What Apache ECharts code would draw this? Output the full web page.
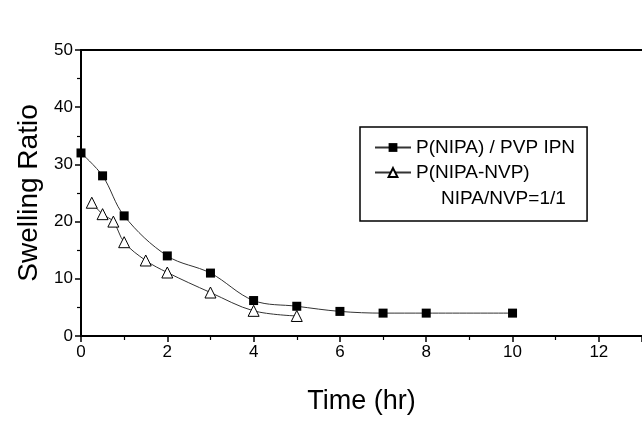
<!DOCTYPE html>
<html>
<head>
<meta charset="utf-8">
<script src="https://cdn.jsdelivr.net/npm/echarts@6/dist/echarts.min.js"></script>
<style>html,body{margin:0;padding:0;background:#fff}#c{width:642px;height:434px}</style>
</head>
<body>
<div id="c"></div>
<script>
const ipnTime = [0, 0.5, 1, 2, 3, 4, 5, 6, 7, 8, 10];
const ipnRatio = [32, 28, 21, 14, 11, 6.2, 5.2, 4.3, 4, 4, 4];
const copTime = [0.25, 0.5, 0.75, 1, 1.5, 2, 3, 4, 5];
const copRatio = [23.3, 21.3, 20, 16.4, 13.2, 11.1, 7.6, 4.4, 3.5];
const seriesNames = ['P(NIPA) / PVP IPN', 'P(NIPA-NVP)'];
const legendExtra = 'NIPA/NVP=1/1';
const xTitle = 'Time (hr)';
const yTitle = 'Swelling Ratio';

const font = 'Liberation Sans, Arial, sans-serif';
const chart = echarts.init(document.getElementById('c'));
chart.setOption({
  animation: false,
  grid: {left: 81, right: 0, top: 50, bottom: 98},
  legend: {
    orient: 'vertical', left: 360, top: 127,
    padding: [11, 12, 39, 14], itemGap: 6,
    itemWidth: 36, itemHeight: 11,
    borderColor: '#000', borderWidth: 1.5,
    textStyle: {fontFamily: font, fontSize: 19, color: '#000'},
    data: seriesNames
  },
  graphic: [{
    type: 'text', left: 441, top: 189,
    style: {text: legendExtra, fontFamily: font, fontSize: 19, fill: '#000'}
  }],
  xAxis: [{
    type: 'value', min: 0, max: 13, interval: 2,
    name: xTitle, nameLocation: 'middle', nameGap: 52,
    nameTextStyle: {fontFamily: font, fontSize: 27, color: '#000'},
    axisLine: {lineStyle: {color: '#000', width: 2}},
    axisTick: {length: 6, lineStyle: {color: '#000', width: 1.5}},
    minorTick: {show: true, splitNumber: 2, length: 4, lineStyle: {color: '#000', width: 1.2}},
    axisLabel: {fontFamily: font, fontSize: 17, color: '#000', margin: 8, showMaxLabel: false},
    splitLine: {show: false}
  }, {
    type: 'value', min: 0, max: 13, position: 'top',
    axisLine: {show: true, lineStyle: {color: '#000', width: 2}},
    axisTick: {show: false}, axisLabel: {show: false}, splitLine: {show: false}
  }],
  yAxis: {
    type: 'value', min: 0, max: 50, interval: 10,
    name: yTitle, nameLocation: 'middle', nameGap: 38,
    nameTextStyle: {fontFamily: font, fontSize: 28, color: '#000'},
    axisLine: {show: true, lineStyle: {color: '#000', width: 2}},
    axisTick: {show: true, length: 6, lineStyle: {color: '#000', width: 1.5}},
    minorTick: {show: true, splitNumber: 2, length: 4, lineStyle: {color: '#000', width: 1.2}},
    axisLabel: {fontFamily: font, fontSize: 17, color: '#000', margin: 8},
    splitLine: {show: false}
  },
  series: [{
    name: seriesNames[0], type: 'line', smooth: 0.35,
    data: ipnTime.map((t, i) => [t, ipnRatio[i]]),
    symbol: 'rect', symbolSize: 9,
    itemStyle: {color: '#000'},
    lineStyle: {color: '#333', width: 1}
  }, {
    name: seriesNames[1], type: 'line', smooth: 0.35,
    data: copTime.map((t, i) => [t, copRatio[i]]),
    symbol: 'triangle', symbolSize: 11,
    itemStyle: {color: '#fff', borderColor: '#000', borderWidth: 1},
    lineStyle: {color: '#333', width: 1}
  }]
});
</script>
</body>
</html>
